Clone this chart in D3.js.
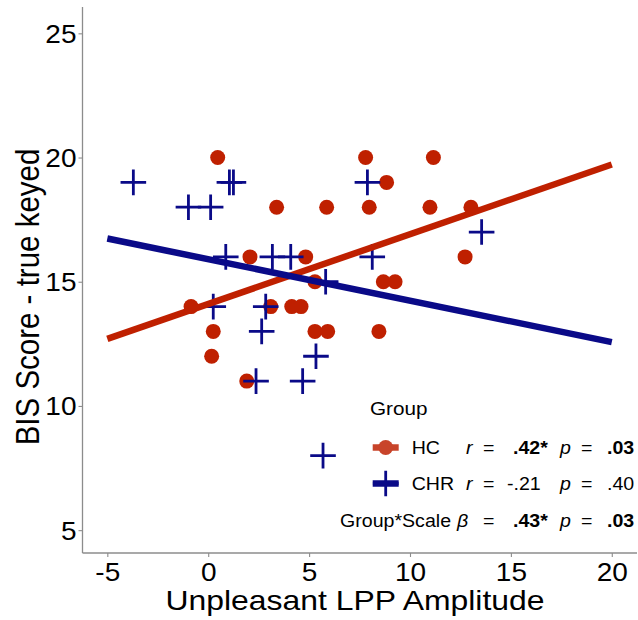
<!DOCTYPE html>
<html>
<head>
<meta charset="utf-8">
<script src="https://cdn.jsdelivr.net/npm/d3@7"></script>
<style>
  html, body { margin: 0; padding: 0; background: #fff; }
  text { font-family: "Liberation Sans", Arial, Helvetica, sans-serif; }
</style>
</head>
<body>
<svg id="chart" width="638" height="620"></svg>
<script>
// ---------------- data ----------------
const hcX = [0.47, 7.80, 11.16, 8.84, 3.39, 5.87, 7.98, 10.99, 13.02, 2.07, 4.83, 12.73, 5.29, 8.68, 9.26, -0.85, 3.10, 4.14, 4.60, 0.25, 5.29, 5.92, 8.46, 0.17, 1.91];
const hcY = [20, 20, 20, 19, 18, 18, 18, 18, 18, 16, 16, 16, 15, 15, 15, 14, 14, 14, 14, 13, 13, 13, 13, 12, 11];
const chrX = [-3.71, 1.05, 1.25, 7.89, -0.98, 0.12, 13.55, 0.87, 3.18, 4.09, 8.13, 5.82, 0.25, 2.85, 2.65, 5.34, 2.37, 4.68, 5.69];
const chrY = [19, 19, 19, 19, 18, 18, 17, 16, 16, 16, 16, 15, 14, 14, 13, 12, 11, 11, 8];
// fitted regression lines, endpoints
const hcFitX = [-5, 20], hcFitY = [12.70, 19.72];
const chrFitX = [-5, 20], chrFitY = [16.74, 12.57];
const xTicks = [-5, 0, 5, 10, 15, 20];
const yTicks = [5, 10, 15, 20, 25];
const xTitle = "Unpleasant LPP Amplitude";
const yTitle = "BIS Score - true keyed";
const legendTitle = "Group";
const legendGroups = ["HC", "CHR"];
const legendR = [".42*", "-.21"];
const legendRBold = [true, false];
const legendP = [".03", ".40"];
const legendPBold = [true, false];
const interLabel = "Group*Scale";
const interBeta = ".43*";
const interP = ".03";

// ---------------- layout ----------------
const RED = "#bf2000", BLUE = "#0a0a88", LEGRED = "#c8442a", AXIS = "#8c8c8c";
const SX = 1.12; // horizontal text stretch seen in reference
const svg = d3.select("#chart");
const x = d3.scaleLinear().domain([-6.23, 21.25]).range([82.5, 637]);
const y = d3.scaleLinear().domain([4.08, 26.06]).range([553, 7]);

// points
const hc = hcX.map((v, i) => ({x: v, y: hcY[i]}));
const chr = chrX.map((v, i) => ({x: v, y: chrY[i]}));

svg.append("g").selectAll("circle").data(hc).join("circle")
  .attr("cx", d => x(d.x)).attr("cy", d => y(d.y)).attr("r", 7.5)
  .attr("fill", RED);

const plusPath = s => `M${-s},0H${s}M0,${-s}V${s}`;
svg.append("g").selectAll("path").data(chr).join("path")
  .attr("transform", d => `translate(${x(d.x)},${y(d.y)})`)
  .attr("d", plusPath(12.8))
  .attr("stroke", BLUE).attr("stroke-width", 2.8).attr("fill", "none");

// regression lines
const line = d3.line().x(d => x(d[0])).y(d => y(d[1]));
svg.append("path").datum(hcFitX.map((v, i) => [v, hcFitY[i]]))
  .attr("d", line).attr("stroke", RED).attr("stroke-width", 6.5).attr("fill", "none");
svg.append("path").datum(chrFitX.map((v, i) => [v, chrFitY[i]]))
  .attr("d", line).attr("stroke", BLUE).attr("stroke-width", 6.5).attr("fill", "none");

// axes
const fmt = d => String(d);
const gx = svg.append("g").attr("transform", `translate(0,${y.range()[0]})`)
  .call(d3.axisBottom(x).tickValues(xTicks).tickSize(4).tickSizeOuter(0).tickFormat(fmt));
const gy = svg.append("g").attr("transform", `translate(${x.range()[0]},0)`)
  .call(d3.axisLeft(y).tickValues(yTicks).tickSize(4).tickSizeOuter(0).tickFormat(fmt));
[gx, gy].forEach(g => {
  g.select(".domain").attr("stroke", AXIS).attr("stroke-width", 1.3);
  g.selectAll(".tick line").attr("stroke", AXIS).attr("stroke-width", 1.1);
  g.selectAll(".tick text").attr("fill", "#000").attr("font-size", 25)
    .attr("font-family", "Liberation Sans, Arial, sans-serif");
});
gx.selectAll(".tick text").attr("y", 0).attr("dy", null)
  .attr("transform", `translate(0,27.5) scale(${SX},1)`);
gy.selectAll(".tick text").attr("x", 0).attr("dy", "0.36em")
  .attr("transform", `translate(-6,0) scale(${SX},1)`);
// extend axis lines over full panel
gx.select(".domain").attr("d", `M${x.range()[0]},0H${x.range()[1]}`);
gy.select(".domain").attr("d", `M0,${y.range()[0]}V${y.range()[1]}`);

// titles
svg.append("text").attr("transform", `translate(355,610) scale(${SX},1)`)
  .attr("text-anchor", "middle").attr("font-size", 28.5).attr("fill", "#000").text(xTitle);
svg.append("text").attr("transform", `translate(39,297) rotate(-90) scale(1,${SX})`)
  .attr("text-anchor", "middle").attr("font-size", 29.5).attr("fill", "#000").text(yTitle);

// legend
const lg = svg.append("g");
function tok(tx, ty, t, opts = {}) {
  lg.append("text").attr("transform", `translate(${tx},${ty}) scale(${SX},1)`)
    .attr("font-size", opts.size || 17.5).attr("fill", "#000")
    .attr("font-weight", opts.bold ? "bold" : null)
    .attr("font-style", opts.italic ? "italic" : null)
    .text(t);
}
tok(370, 415, legendTitle, {size: 18.5});
const rowY = [454, 490];
const keyCx = 385.7;
// HC key
lg.append("line").attr("x1", keyCx - 13).attr("x2", keyCx + 13).attr("y1", rowY[0] - 6.5).attr("y2", rowY[0] - 6.5)
  .attr("stroke", LEGRED).attr("stroke-width", 6.5);
lg.append("circle").attr("cx", keyCx).attr("cy", rowY[0] - 6.5).attr("r", 7.5).attr("fill", LEGRED);
// CHR key
lg.append("line").attr("x1", keyCx - 13).attr("x2", keyCx + 13).attr("y1", rowY[1] - 6.5).attr("y2", rowY[1] - 6.5)
  .attr("stroke", BLUE).attr("stroke-width", 6.5);
lg.append("path").attr("transform", `translate(${keyCx},${rowY[1] - 6.5})`).attr("d", plusPath(12.8))
  .attr("stroke", BLUE).attr("stroke-width", 2.8);
legendGroups.forEach((g, i) => {
  const yy = rowY[i];
  tok(411.7, yy, g);
  tok(466, yy, "r", {italic: true});
  tok(483, yy, "=");
  tok(i === 0 ? 513 : 507, yy, legendR[i], {bold: legendRBold[i]});
  tok(560, yy, "p", {italic: true});
  tok(581, yy, "=");
  tok(607, yy, legendP[i], {bold: legendPBold[i]});
});
const iy = 527;
tok(340, iy, interLabel);
tok(457, iy, "β", {italic: true});
tok(483, iy, "=");
tok(513, iy, interBeta, {bold: true});
tok(560, iy, "p", {italic: true});
tok(581, iy, "=");
tok(607, iy, interP, {bold: true});
</script>
</body>
</html>
